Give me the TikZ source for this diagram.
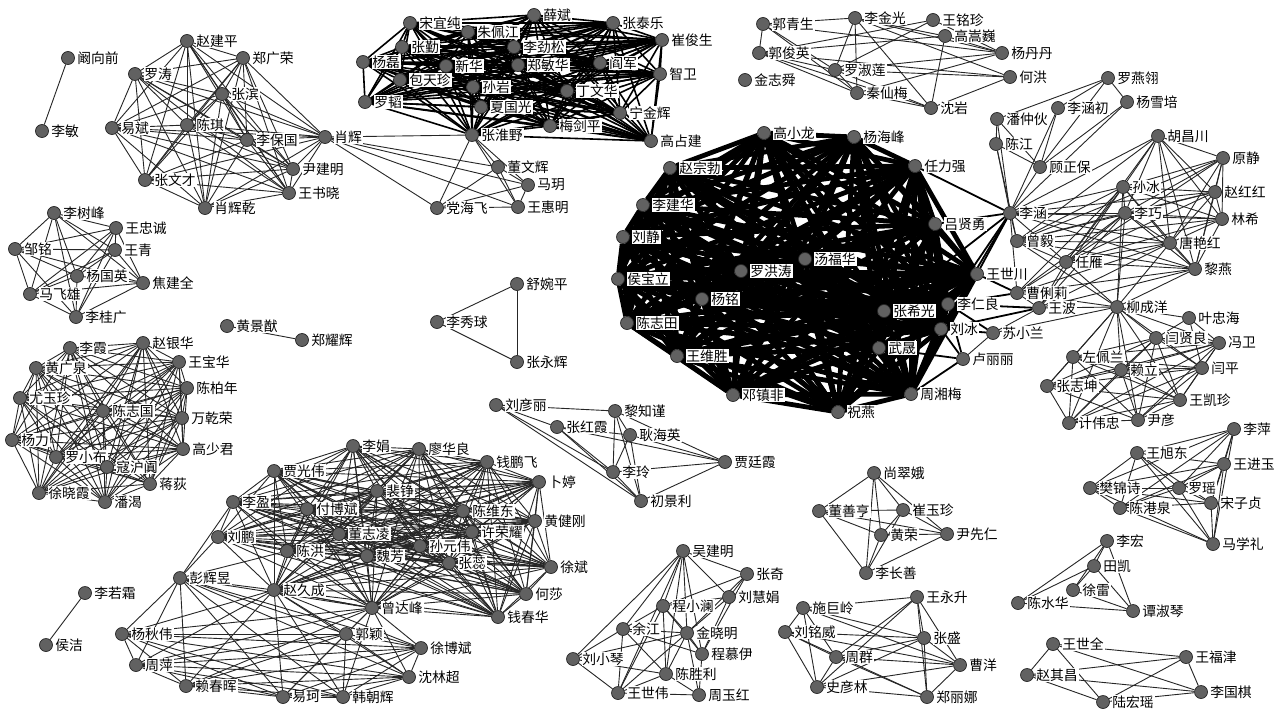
\documentclass[tikz,border=0pt]{standalone}
\usepackage{fontspec}
\setmainfont{Noto Sans CJK SC}
\usetikzlibrary{backgrounds}
\tikzset{
 v/.style={circle,fill=black!62,draw=black!85,line width=0.7pt,minimum size=13pt,inner sep=0pt},
 lab/.style={fill=white,inner sep=0.8pt,font=\fontsize{13.8}{14}\selectfont,text=black},
 ed/.style={draw=black!85,line width=0.9pt},
 edb/.style={draw=black,line width=1.6pt},
 edm/.style={draw=black,line width=1.8pt},
 edc/.style={draw=black,line width=4.8pt},
}
\newcommand\vtx[4]{\node[v,label={[lab,label distance=1.5pt]right:#4}] (#1) at (#2,#3) {};}
\newcommand\clique[2]{\foreach \a [count=\i] in {#2}{\foreach \b [count=\j] in {#2}{\ifnum\i<\j \draw[#1] (\a)--(\b);\fi}}}
\newcommand\edges[2]{\foreach \a/\b in {#2}{\draw[#1] (\a)--(\b);}}
\begin{document}
\begin{tikzpicture}[x=1pt,y=-1pt]
\useasboundingbox (0,0) rectangle (1284,709);
% cluster A
\vtx{p1}{68}{58}{阚向前}
\vtx{p2}{42}{131}{李敏}
\vtx{a1}{187}{41}{赵建平}
\vtx{a2}{243}{58}{郑广荣}
\vtx{a3}{135}{74}{罗涛}
\vtx{a4}{222}{94}{张滨}
\vtx{a5}{112}{128}{易斌}
\vtx{a6}{187}{125}{陈琪}
\vtx{a7}{247}{140}{李保国}
\vtx{a8}{325}{137}{肖辉}
\vtx{a9}{293}{169}{尹建明}
\vtx{a10}{145}{180}{张文才}
\vtx{a11}{289}{193}{王书晓}
\vtx{a12}{205}{208}{肖辉乾}
% cluster B
\vtx{b1}{410}{23}{宋宜纯}
\vtx{b2}{468}{32}{朱佩江}
\vtx{b3}{534}{15}{薛斌}
\vtx{b4}{613}{23}{张泰乐}
\vtx{b5}{662}{40}{崔俊生}
\vtx{b6}{402}{47}{张勤}
\vtx{b7}{514}{47}{李劲松}
\vtx{b8}{363}{62}{杨磊}
\vtx{b9}{446}{66}{新华}
\vtx{b10}{518}{65}{郑敏华}
\vtx{b11}{600}{63}{阎军}
\vtx{b12}{660}{74}{智卫}
\vtx{b13}{400}{80}{包天珍}
\vtx{b14}{473}{87}{孙岩}
\vtx{b15}{567}{91}{丁文华}
\vtx{b16}{365}{102}{罗韬}
\vtx{b17}{481}{107}{夏国光}
\vtx{b18}{620}{113}{宁金辉}
\vtx{b19}{550}{126}{梅剑平}
\vtx{b20}{472}{135}{张淮野}
\vtx{b21}{651}{141}{高占建}
\vtx{b22}{498}{167}{董文辉}
\vtx{b23}{528}{185}{马玥}
\vtx{b24}{437}{208}{党海飞}
\vtx{b25}{518}{207}{王惠明}
% cluster C
\vtx{c1}{763}{24}{郭青生}
\vtx{c2}{855}{18}{李金光}
\vtx{c3}{933}{20}{王铭珍}
\vtx{c4}{945}{36}{高嵩巍}
\vtx{c5}{759}{53}{郭俊英}
\vtx{c6}{835}{70}{罗淑莲}
\vtx{c7}{745}{80}{金志舜}
\vtx{c8}{857}{93}{秦仙梅}
\vtx{c9}{931}{108}{沈岩}
\vtx{c10}{1002}{53}{杨丹丹}
\vtx{c11}{1010}{77}{何洪}
% cluster D
\vtx{d1}{764}{133}{高小龙}
\vtx{d2}{854}{137}{杨海峰}
\vtx{d3}{670}{168}{赵宗勃}
\vtx{d4}{915}{166}{任力强}
\vtx{d5}{643}{205}{李建华}
\vtx{d6}{935}{224}{吕贤勇}
\vtx{d7}{623}{237}{刘静}
\vtx{d8}{805}{259}{汤福华}
\vtx{d9}{741}{271}{罗洪涛}
\vtx{d10}{977}{274}{王世川}
\vtx{d11}{618}{279}{侯宝立}
\vtx{d12}{702}{299}{杨铭}
\vtx{d13}{884}{311}{张希光}
\vtx{d14}{948}{304}{李仁良}
\vtx{d15}{627}{323}{陈志田}
\vtx{d16}{941}{329}{刘冰}
\vtx{d17}{879}{348}{武晟}
\vtx{d18}{677}{356}{王维胜}
\vtx{d19}{733}{395}{邓镇非}
\vtx{d20}{911}{394}{周湘梅}
\vtx{d21}{838}{412}{祝燕}
% cluster E
\vtx{e1}{1108}{78}{罗燕翎}
\vtx{e2}{1127}{102}{杨雪培}
\vtx{e3}{1058}{108}{李涵初}
\vtx{e4}{997}{119}{潘仲伙}
\vtx{e5}{996}{144}{陈江}
\vtx{e6}{1040}{167}{顾正保}
\vtx{e7}{1158}{136}{胡昌川}
\vtx{e8}{1223}{158}{原静}
\vtx{e9}{1123}{187}{孙冰}
\vtx{e10}{1215}{192}{赵红红}
\vtx{e11}{1010}{213}{李涵}
\vtx{e12}{1125}{213}{李巧}
\vtx{e13}{1222}{219}{林希}
\vtx{e14}{1017}{241}{曾毅}
\vtx{e15}{1170}{243}{唐艳红}
\vtx{e16}{1066}{262}{任雁}
\vtx{e17}{1195}{269}{黎燕}
\vtx{e18}{1017}{293}{曹俐莉}
\vtx{e19}{1039}{308}{王波}
\vtx{e20}{1117}{307}{柳成洋}
\vtx{e21}{993}{333}{苏小兰}
\vtx{e22}{963}{359}{卢丽丽}
% cluster F
\vtx{f1}{1189}{318}{叶忠海}
\vtx{f2}{1156}{338}{闫贤良}
\vtx{f3}{1219}{343}{冯卫}
\vtx{f4}{1073}{357}{左佩兰}
\vtx{f5}{1121}{370}{赖立}
\vtx{f6}{1202}{368}{闫平}
\vtx{f7}{1047}{386}{张志坤}
\vtx{f8}{1180}{400}{王凯珍}
\vtx{f9}{1069}{423}{计伟忠}
\vtx{f10}{1138}{420}{尹彦}
% cluster G
\vtx{g1}{54}{213}{李树峰}
\vtx{g2}{116}{228}{王忠诚}
\vtx{g3}{15}{249}{邹铭}
\vtx{g4}{115}{250}{王青}
\vtx{g5}{77}{276}{杨国英}
\vtx{g6}{143}{283}{焦建全}
\vtx{g7}{30}{294}{马飞雄}
\vtx{g8}{76}{317}{李桂广}
\vtx{s1}{227}{326}{黄景猷}
\vtx{s2}{302}{340}{郑耀辉}
\vtx{t1}{437}{322}{李秀球}
\vtx{t2}{517}{284}{舒婉平}
\vtx{t3}{517}{362}{张永辉}
% cluster H
\vtx{h1}{70}{348}{李霞}
\vtx{h2}{143}{343}{赵银华}
\vtx{h3}{36}{368}{黄广泉}
\vtx{h4}{179}{362}{王宝华}
\vtx{h5}{187}{388}{陈柏年}
\vtx{h6}{20}{398}{尤玉珍}
\vtx{h7}{103}{411}{陈志国}
\vtx{h8}{182}{418}{万乾荣}
\vtx{h9}{12}{440}{杨力}
\vtx{h10}{183}{449}{高少君}
\vtx{h11}{56}{457}{罗小布}
\vtx{h12}{107}{467}{寇沪阗}
\vtx{h13}{150}{484}{蒋荻}
\vtx{h14}{39}{493}{徐晓霞}
\vtx{h15}{105}{502}{潘渴}
% cluster I
\vtx{i1}{353}{446}{李娟}
\vtx{i2}{419}{449}{廖华良}
\vtx{i3}{487}{462}{钱鹏飞}
\vtx{i4}{274}{471}{贾光伟}
\vtx{i5}{539}{482}{卜婷}
\vtx{i6}{377}{491}{裴铮}
\vtx{i7}{233}{502}{李盈}
\vtx{i8}{307}{509}{付博斌}
\vtx{i9}{463}{511}{陈维东}
\vtx{i10}{535}{521}{黄健刚}
\vtx{i11}{218}{537}{刘鹏}
\vtx{i12}{339}{534}{董志凌}
\vtx{i13}{420}{546}{孙元伟}
\vtx{i14}{472}{532}{许荣耀}
\vtx{i15}{287}{551}{陈洪}
\vtx{i16}{367}{556}{魏芳}
\vtx{i17}{449}{563}{张蕊}
\vtx{i18}{551}{567}{徐斌}
\vtx{i19}{526}{594}{何莎}
\vtx{i20}{498}{617}{钱春华}
\vtx{i21}{372}{608}{曾达峰}
\vtx{i22}{274}{590}{赵久成}
\vtx{j1}{180}{578}{彭辉昱}
\vtx{j2}{122}{634}{杨秋伟}
\vtx{j3}{346}{634}{郭颖}
\vtx{j4}{421}{648}{徐博斌}
\vtx{j5}{136}{665}{周萍}
\vtx{j6}{409}{677}{沈林超}
\vtx{j7}{186}{686}{赖春晖}
\vtx{j8}{283}{697}{易珂}
\vtx{j9}{343}{697}{韩朝辉}
\vtx{u1}{85}{593}{李若霜}
\vtx{u2}{46}{645}{侯洁}
% cluster K
\vtx{k1}{496}{405}{刘彦丽}
\vtx{k2}{615}{411}{黎知谨}
\vtx{k3}{557}{427}{张红霞}
\vtx{k4}{630}{435}{耿海英}
\vtx{k5}{725}{462}{贾廷霞}
\vtx{k6}{613}{472}{李玲}
\vtx{k7}{641}{501}{初景利}
% cluster L
\vtx{l1}{683}{551}{吴建明}
\vtx{l2}{747}{574}{张奇}
\vtx{l3}{729}{597}{刘慧娟}
\vtx{l4}{663}{606}{程小澜}
\vtx{l5}{623}{629}{余江}
\vtx{l6}{687}{633}{金晓明}
\vtx{l7}{702}{654}{程慕伊}
\vtx{l8}{573}{659}{刘小琴}
\vtx{l9}{666}{674}{陈胜利}
\vtx{l10}{618}{693}{王世伟}
\vtx{l11}{699}{695}{周玉红}
% cluster M
\vtx{m1}{874}{473}{尚翠娥}
\vtx{m2}{819}{511}{董善亨}
\vtx{m3}{903}{510}{崔玉珍}
\vtx{m4}{881}{535}{黄荣}
\vtx{m5}{947}{534}{尹先仁}
\vtx{m6}{866}{573}{李长善}
% cluster N
\vtx{n1}{803}{608}{施巨岭}
\vtx{n2}{917}{597}{王永升}
\vtx{n3}{785}{632}{刘铭威}
\vtx{n4}{924}{638}{张盛}
\vtx{n5}{836}{657}{周群}
\vtx{n6}{960}{665}{曹洋}
\vtx{n7}{817}{687}{史彦林}
\vtx{n8}{927}{697}{郑丽娜}
% cluster O
\vtx{o1}{1234}{429}{李萍}
\vtx{o2}{1137}{453}{王旭东}
\vtx{o3}{1224}{464}{王进玉}
\vtx{o4}{1090}{488}{樊锦诗}
\vtx{o5}{1179}{488}{罗瑶}
\vtx{o6}{1120}{508}{陈港泉}
\vtx{o7}{1211}{503}{宋子贞}
\vtx{o8}{1213}{544}{马学礼}
% cluster P
\vtx{q1}{1107}{541}{李宏}
\vtx{q2}{1094}{566}{田凯}
\vtx{q3}{1073}{590}{徐雷}
\vtx{q4}{1018}{603}{陈水华}
\vtx{q5}{1133}{611}{谭淑琴}
% cluster R
\vtx{r1}{1053}{644}{王世全}
\vtx{r2}{1186}{657}{王福津}
\vtx{r3}{1027}{675}{赵其昌}
\vtx{r4}{1201}{692}{李国棋}
\vtx{r5}{1103}{702}{陆宏瑶}

\begin{pgfonlayer}{background}
\fill[white] (0,0) rectangle (1284,709);
\edges{ed}{p1/p2, s1/s2, t1/t2, t1/t3, t2/t3, u1/u2}
\clique{ed}{a1,a2,a3,a4,a5,a6,a7,a8,a9,a10,a11,a12}
\clique{edb}{b1,b2,b3,b4,b5,b6,b7,b8,b9,b10,b11,b12,b13,b14,b15,b16,b17,b18,b19,b20,b21}
\clique{ed}{a8,b20,b22,b23,b24,b25}
\edges{ed}{c1/c5, c1/c2, c1/c6, c1/c10, c1/c8, c2/c6, c2/c8, c2/c9, c2/c10, c2/c11, c2/c4, c3/c5, c3/c6, c4/c9, c4/c5, c4/c10, c5/c8, c5/c6, c5/c11, c5/c9, c6/c8, c6/c9, c6/c11, c6/c10, c8/c9, c8/c10, c3/c10, c9/c11}
\clique{edc}{d1,d2,d3,d4,d5,d6,d7,d8,d9,d10,d11,d12,d13,d14,d15,d16,d17,d18,d19,d20,d21}
\edges{ed}{e1/e2, e1/e3, e1/e4, e1/e6, e2/e6, e2/e11, e3/e11, e3/e6, e4/e5, e4/e11, e4/e6, e5/e11, e5/e6, e5/e14, e6/e11, e11/e7, e11/e9, e11/e12, e11/e10, e11/e13, e11/e14, e11/e15, e11/e16, e11/e17, e11/e18}
\edges{edm}{e11/d4, e11/d6, e11/d10, e11/d14, e11/d16, e11/d13, e18/d10, e18/d14, e19/d14, e19/d16, e22/d20, e22/d16, e22/d14, e22/d17, e21/d16, e21/d14}
\clique{ed}{e7,e8,e9,e10,e12,e13,e15,e17,e14,e16}
\edges{ed}{e18/e9, e18/e12, e18/e15, e18/e17, e18/e16, e18/e19, e19/e9, e19/e12, e19/e15, e19/e17, e19/e16, e21/e19, e21/e22, e21/e20}
\edges{ed}{e20/e12, e20/e9, e20/e15, e20/e17, e20/e16, e20/e19, e20/e18, e20/e14, e20/f1, e20/f2, e20/f3, e20/f4, e20/f5, e20/f6, e20/f7, e20/f8, e20/f9, e20/f10}
\clique{ed}{f2,f3,f4,f5,f6,f7,f8,f9,f10}
\edges{ed}{f1/f2, f1/f3, f1/f6}
\clique{ed}{g1,g2,g3,g4,g5,g6,g7,g8}
\clique{ed}{h1,h2,h3,h4,h5,h6,h7,h8,h9,h10,h11,h12,h13,h14,h15}
\clique{ed}{i1,i2,i3,i4,i5,i6,i7,i8,i9,i10,i11,i12,i13,i14,i15,i16,i17,i18,i19,i20,i21,i22}
\clique{ed}{j1,j2,j3,j4,j5,j6,j7,j8,j9,i21,i22}
\edges{ed}{j1/i7, j1/i11, j1/i15}
\edges{ed}{k1/k3, k1/k2, k1/k6, k1/k7, k3/k6, k3/k7, k3/k5, k3/k4, k2/k4, k2/k6, k2/k7, k2/k5, k4/k6, k4/k7, k4/k5, k6/k5, k6/k7, k7/k5}
\edges{ed}{l1/l2, l1/l3, l1/l4, l1/l5, l1/l6, l1/l7, l1/l8, l1/l9, l1/l10, l2/l3, l2/l4, l2/l6, l2/l7, l3/l6, l3/l7, l3/l4, l4/l5, l4/l6, l4/l9, l4/l10, l4/l7, l5/l6, l5/l8, l5/l9, l5/l10, l5/l7, l6/l7, l6/l9, l6/l11, l6/l10, l7/l11, l8/l10, l8/l9, l8/l6, l9/l10, l9/l11, l10/l11}
\edges{ed}{m1/m2, m1/m3, m1/m4, m1/m5, m1/m6, m2/m3, m2/m4, m2/m6, m2/m5, m3/m4, m3/m6, m3/m5, m4/m5, m4/m6, m6/m5}
\edges{ed}{n1/n2, n1/n3, n1/n4, n1/n6, n1/n7, n1/n5, n2/n4, n2/n8, n2/n5, n2/n7, n2/n6, n3/n5, n3/n7, n3/n4, n3/n6, n3/n8, n4/n6, n4/n8, n4/n5, n4/n7, n5/n6, n5/n8, n5/n7, n6/n8, n6/n7, n7/n8}
\clique{ed}{o1,o2,o3,o4,o5,o6,o7,o8}
\edges{ed}{q1/q2, q1/q3, q1/q4, q1/q5, q2/q3, q2/q4, q2/q5, q3/q5, q4/q5}
\edges{ed}{r1/r3, r1/r5, r1/r2, r1/r4, r3/r2, r3/r4, r3/r5, r2/r4, r2/r5, r4/r5}
\end{pgfonlayer}
\end{tikzpicture}
\end{document}
